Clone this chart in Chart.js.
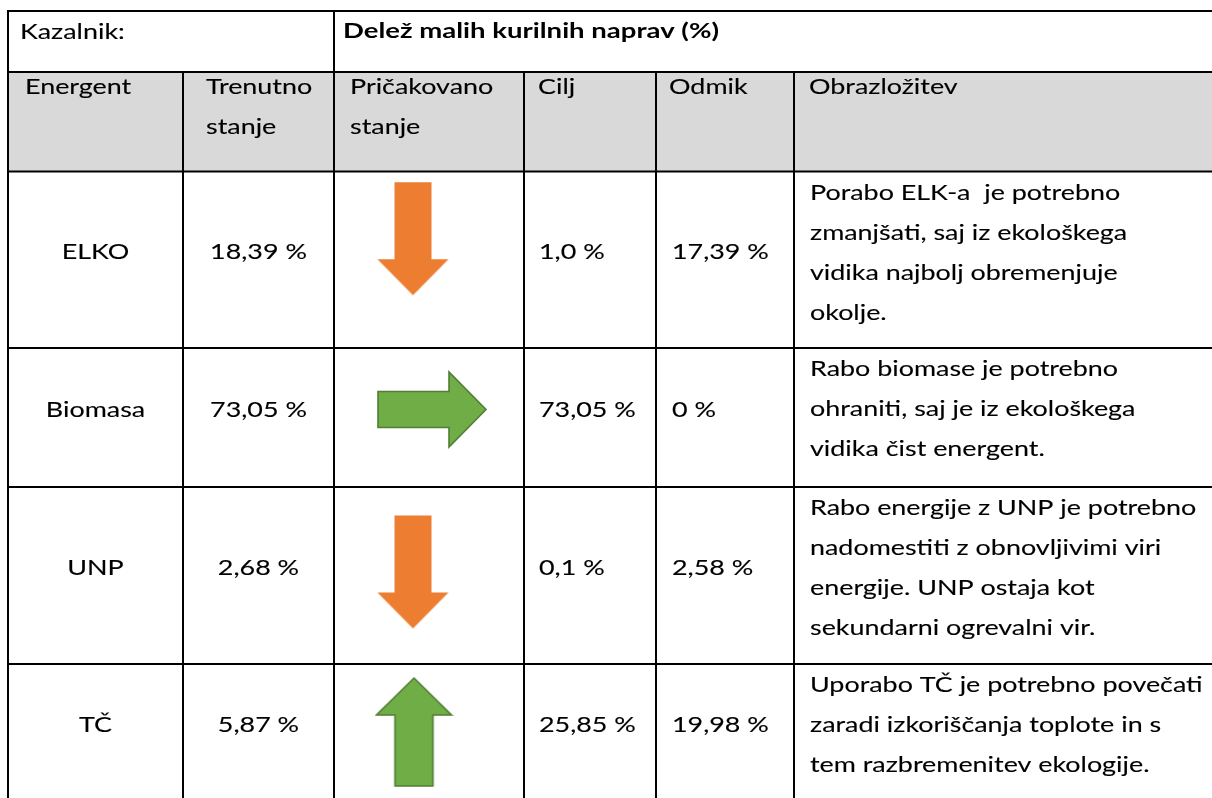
<!DOCTYPE html>
<html><head><meta charset="utf-8">
<script src="https://cdn.jsdelivr.net/npm/chart.js@4.4.1/dist/chart.umd.min.js"></script>
<style>html,body{margin:0;padding:0;background:#fff;overflow:hidden}#wrap{width:1212px;height:798px;position:relative}canvas{display:block}</style>
</head><body><div id="wrap"><canvas id="c" width="1212" height="798" style="width:1212px;height:798px"></canvas></div>
<script>
// ---------- DATA ----------
const indicatorLabel = 'Kazalnik:';
const indicatorTitle = 'Delež malih kurilnih naprav (%)';
const columnHeaders = [['Energent'], ['Trenutno', 'stanje'], ['Pričakovano', 'stanje'], ['Cilj'], ['Odmik'], ['Obrazložitev']];
const energents = ['ELKO', 'Biomasa', 'UNP', 'TČ'];
const currentState = ['18,39 %', '73,05 %', '2,68 %', '5,87 %'];
const expectedTrend = ['down', 'right', 'down', 'up'];
const targets = ['1,0 %', '73,05 %', '0,1 %', '25,85 %'];
const deviations = ['17,39 %', '0 %', '2,58 %', '19,98 %'];
const explanations = [
  ['Porabo ELK-a  je potrebno', 'zmanjšati, saj iz ekološkega', 'vidika najbolj obremenjuje', 'okolje.'],
  ['Rabo biomase je potrebno', 'ohraniti, saj je iz ekološkega', 'vidika čist energent.'],
  ['Rabo energije z UNP je potrebno', 'nadomestiti z obnovljivimi viri', 'energije. UNP ostaja kot', 'sekundarni ogrevalni vir.'],
  ['Uporabo TČ je potrebno povečati', 'zaradi izkoriščanja toplote in s', 'tem razbremenitev ekologije.']
];

// ---------- LAYOUT / STYLE ----------
const W = 1212, H = 798;
const colEdges = [8, 183, 334, 524, 656, 794, 1240];
const rowEdges = [11, 72, 171.5, 348, 487, 664, 800];
const headerIndent = [17, 23, 16, 14, 13, 15];
const FONT = 'Lato', FS = 21, SX = 1.28, SXB = 1.31, LINE = 40;
const headerFill = '#D9D9D9';
const arrowNudgeY = [-21, -8, -3.5, 0];
const arrowStyles = {
  down:  {fill: '#ED7D31', stroke: null, dx: 79},
  up:    {fill: '#70AD47', stroke: '#507E32', dx: 80},
  right: {fill: '#70AD47', stroke: '#507E32', dx: 98}
};

function makeArrow(dir) {
  const st = arrowStyles[dir];
  let w, h, pts;
  if (dir === 'down') {
    w = 71; h = 113; const sw = 37, hh = 36;
    const sl = (w - sw) / 2;
    pts = [[sl, 0], [sl + sw, 0], [sl + sw, h - hh], [w, h - hh], [w / 2, h], [0, h - hh], [sl, h - hh]];
  } else if (dir === 'up') {
    w = 75; h = 108; const sw = 38, hh = 37;
    const sl = (w - sw) / 2;
    pts = [[w / 2, 0], [w, hh], [sl + sw, hh], [sl + sw, h], [sl, h], [sl, hh], [0, hh]];
  } else {
    w = 108; h = 75; const sh = 36, hw = 37;
    const st2 = (h - sh) / 2;
    pts = [[0, st2], [w - hw, st2], [w - hw, 0], [w, h / 2], [w - hw, h], [w - hw, st2 + sh], [0, st2 + sh]];
  }
  const pad = 2;
  const c = document.createElement('canvas');
  c.width = w + pad * 2; c.height = h + pad * 2;
  const g = c.getContext('2d');
  g.translate(pad, pad);
  g.beginPath();
  pts.forEach((p, i) => i ? g.lineTo(p[0], p[1]) : g.moveTo(p[0], p[1]));
  g.closePath();
  g.fillStyle = st.fill; g.fill();
  if (st.stroke) { g.lineWidth = 1.6; g.strokeStyle = st.stroke; g.stroke(); }
  return c;
}
const arrowImgs = {down: makeArrow('down'), up: makeArrow('up'), right: makeArrow('right')};

function drawText(ctx, str, x, y, align, bold) {
  ctx.save();
  ctx.font = (bold ? 'bold ' : '') + FS + 'px ' + FONT;
  ctx.fillStyle = '#000';
  ctx.strokeStyle = '#000';
  ctx.lineWidth = 0.12;
  ctx.textAlign = 'left';
  ctx.textBaseline = 'alphabetic';
  const sx = bold ? SXB : SX;
  const w = ctx.measureText(str).width * sx;
  const x0 = align === 'center' ? x - w / 2 : x;
  ctx.translate(x0, y);
  ctx.scale(sx, 1);
  ctx.fillText(str, 0, 0);
  if (!bold) ctx.strokeText(str, 0, 0);
  ctx.restore();
}

const tablePlugin = {
  id: 'tablePlugin',
  beforeDatasetsDraw(chart) {
    const ctx = chart.ctx;
    const xs = chart.scales.x, ys = chart.scales.y;
    const px = v => xs.getPixelForValue(v), py = v => ys.getPixelForValue(v);
    ctx.save();
    ctx.fillStyle = headerFill;
    ctx.fillRect(px(colEdges[0]), py(rowEdges[1]), px(W) - px(colEdges[0]), py(rowEdges[2]) - py(rowEdges[1]));
    ctx.strokeStyle = '#000'; ctx.lineWidth = 2;
    ctx.beginPath();
    for (let r = 0; r < rowEdges.length - 1; r++) {
      ctx.moveTo(px(colEdges[0]) - 1, py(rowEdges[r])); ctx.lineTo(px(W), py(rowEdges[r]));
    }
    colEdges.slice(0, -1).forEach((cx, i) => {
      const top = (i === 0 || i === 2) ? rowEdges[0] : rowEdges[1];
      ctx.moveTo(px(cx), py(top) - 1); ctx.lineTo(px(cx), py(H));
    });
    ctx.stroke();
    drawText(ctx, indicatorLabel, px(20), py(39), 'left', false);
    drawText(ctx, indicatorTitle, px(343), py(38), 'left', true);
    columnHeaders.forEach((lines, i) => {
      lines.forEach((t, j) => drawText(ctx, t, px(colEdges[i] + headerIndent[i]), py(94 + j * LINE), 'left', false));
    });
    energents.forEach((e, i) => {
      const top = rowEdges[i + 2], bot = rowEdges[i + 3];
      const base = (top + bot) / 2 - 0.5;
      drawText(ctx, e, px((colEdges[0] + colEdges[1]) / 2), py(base), 'center', false);
      drawText(ctx, currentState[i], px((colEdges[1] + colEdges[2]) / 2), py(base), 'center', false);
      drawText(ctx, targets[i], px(colEdges[3] + 15), py(base), 'left', false);
      drawText(ctx, deviations[i], px(colEdges[4] + 16), py(base), 'left', false);
      explanations[i].forEach((t, j) => drawText(ctx, t, px(colEdges[5] + 16), py(top + 28 + j * LINE), 'left', false));
    });
    ctx.restore();
  }
};

const arrowData = expectedTrend.map((d, i) => ({
  x: colEdges[2] + arrowStyles[d].dx,
  y: (rowEdges[i + 2] + rowEdges[i + 3]) / 2 + arrowNudgeY[i]
}));

new Chart(document.getElementById('c'), {
  type: 'scatter',
  data: {
    datasets: [{
      label: 'Pričakovano stanje',
      data: arrowData,
      pointStyle: ctx => arrowImgs[expectedTrend[ctx.dataIndex]],
      pointRadius: 5,
      pointHoverRadius: 5,
      clip: false
    }]
  },
  options: {
    responsive: false,
    animation: false,
    events: [],
    layout: {padding: 0, autoPadding: false},
    scales: {
      x: {type: 'linear', min: 0, max: W, display: false},
      y: {type: 'linear', min: 0, max: H, reverse: true, display: false}
    },
    plugins: {legend: {display: false}, tooltip: {enabled: false}},
    elements: {point: {borderWidth: 0}}
  },
  plugins: [tablePlugin]
});
</script></body></html>
